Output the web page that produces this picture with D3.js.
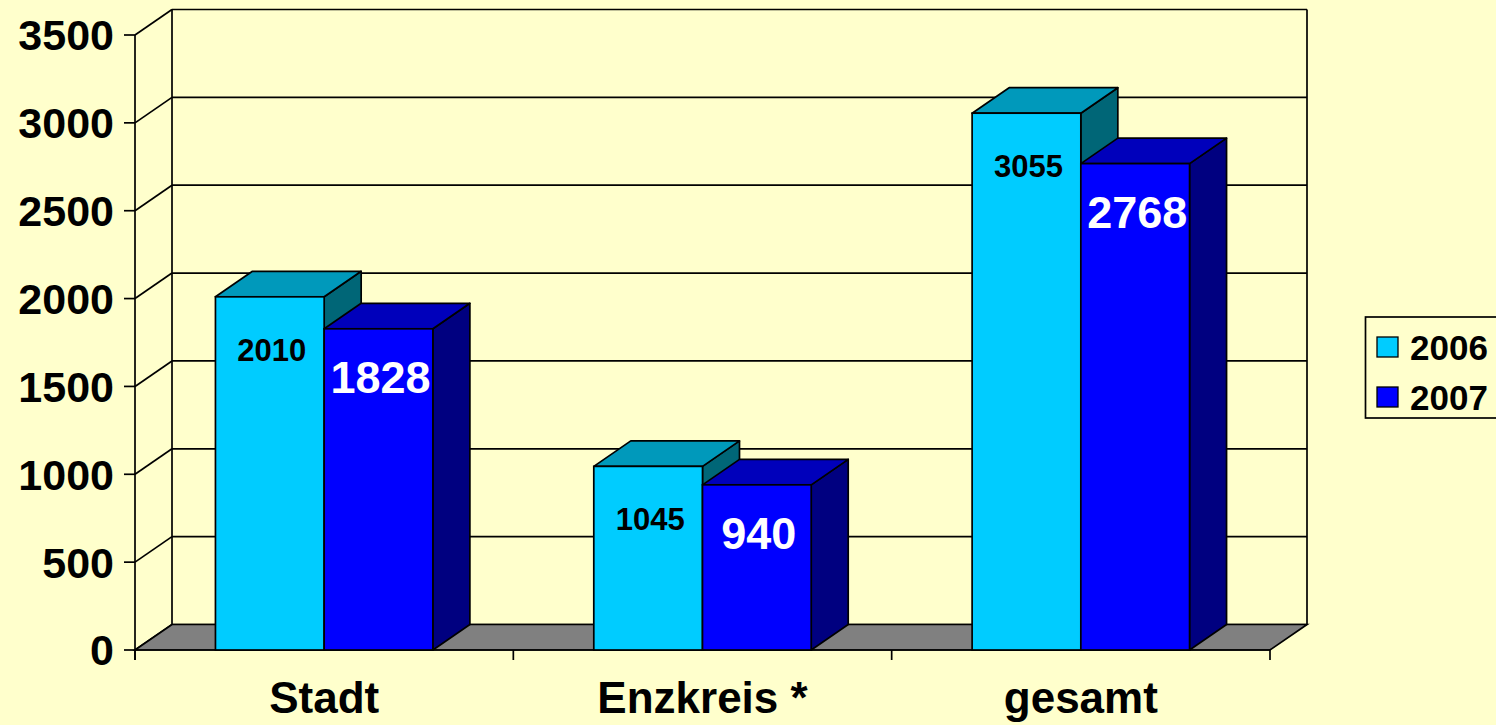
<!DOCTYPE html>
<html>
<head>
<meta charset="utf-8">
<script src="https://cdn.jsdelivr.net/npm/d3@7"></script>
<style>
  html, body { margin: 0; padding: 0; background: #FFFFCC; overflow: hidden; }
  svg { display: block; }
  text { font-family: "Liberation Sans", Arial, sans-serif; font-weight: bold; }
</style>
</head>
<body>
<svg id="chart" width="1496" height="725"></svg>
<script>
const categories = ["Stadt", "Enzkreis *", "gesamt"];
const seriesNames = ["2006", "2007"];
const values2006 = [2010, 1045, 3055];
const values2007 = [1828, 940, 2768];
const yTicks = [0, 500, 1000, 1500, 2000, 2500, 3000, 3500];

const seriesValues = [values2006, values2007];
const W = 1496, H = 725;
const svg = d3.select("#chart");
svg.append("rect").attr("width", W).attr("height", H).attr("fill", "#FFFFCC");

// layout
const x0 = 135, x1 = 1270, yBottom = 650, yTop = 35;
const DX = 37, DY = -25.5;

const x = d3.scaleBand().domain(categories).range([x0, x1]).paddingInner(0).paddingOuter(0);
const xs = d3.scaleBand().domain(seriesNames).range([0, x.bandwidth()]).paddingInner(0).paddingOuter(0.74);
const y = d3.scaleLinear().domain([0, 3500]).range([yBottom, yTop]);

const styles = {
  "2006": { front: "#00CCFF", top: "#0099BB", side: "#006677", label: "#000000", size: 31 },
  "2007": { front: "#0000FF", top: "#0000BB", side: "#000080", label: "#FFFFFF", size: 45 }
};

const lineW = 1.7;
const g = svg.append("g");

// back wall & left wall gridlines
yTicks.forEach(t => {
  const yy = y(t);
  g.append("line").attr("x1", x0 + DX).attr("x2", x1 + DX).attr("y1", yy + DY).attr("y2", yy + DY)
    .attr("stroke", "#000").attr("stroke-width", lineW);
  g.append("line").attr("x1", x0).attr("x2", x0 + DX).attr("y1", yy).attr("y2", yy + DY)
    .attr("stroke", "#000").attr("stroke-width", lineW);
});
// back wall verticals
g.append("line").attr("x1", x0 + DX).attr("x2", x0 + DX).attr("y1", y(3500) + DY).attr("y2", y(0) + DY)
  .attr("stroke", "#000").attr("stroke-width", lineW);
g.append("line").attr("x1", x1 + DX).attr("x2", x1 + DX).attr("y1", y(3500) + DY).attr("y2", y(0) + DY)
  .attr("stroke", "#000").attr("stroke-width", lineW);

// floor
g.append("polygon")
  .attr("points", [[x0, y(0)], [x0 + DX, y(0) + DY], [x1 + DX, y(0) + DY], [x1, y(0)]].map(p => p.join(",")).join(" "))
  .attr("fill", "#808080").attr("stroke", "#000").attr("stroke-width", lineW);

// y axis
g.append("line").attr("x1", x0).attr("x2", x0).attr("y1", y(3500)).attr("y2", y(0) + 10)
  .attr("stroke", "#000").attr("stroke-width", lineW);
yTicks.forEach(t => {
  g.append("line").attr("x1", x0 - 11).attr("x2", x0).attr("y1", y(t)).attr("y2", y(t))
    .attr("stroke", "#000").attr("stroke-width", lineW);
  g.append("text").attr("x", 114).attr("y", y(t)).attr("dy", "0.36em")
    .attr("text-anchor", "end").attr("font-size", 43).attr("fill", "#000").text(t);
});

// x axis
g.append("line").attr("x1", x0).attr("x2", x1).attr("y1", y(0)).attr("y2", y(0))
  .attr("stroke", "#000").attr("stroke-width", lineW);
const boundaries = categories.map(c => x(c)).concat([x(categories[categories.length - 1]) + x.bandwidth()]);
boundaries.forEach(bx => {
  g.append("line").attr("x1", bx).attr("x2", bx).attr("y1", y(0)).attr("y2", y(0) + 10)
    .attr("stroke", "#000").attr("stroke-width", lineW);
});
categories.forEach(c => {
  g.append("text").attr("x", x(c) + x.bandwidth() / 2).attr("y", 713)
    .attr("text-anchor", "middle").attr("font-size", 44).attr("fill", "#000").text(c);
});

// bars
categories.forEach((c, ci) => {
  seriesNames.forEach((s, si) => {
    const v = seriesValues[si][ci];
    const st = styles[s];
    const bx = x(c) + xs(s), bw = xs.bandwidth();
    const top = y(v), bot = y(0);
    const bg = g.append("g");
    bg.append("polygon")
      .attr("points", [[bx + bw, bot], [bx + bw, top], [bx + bw + DX, top + DY], [bx + bw + DX, bot + DY]].map(p => p.join(",")).join(" "))
      .attr("fill", st.side).attr("stroke", "#000").attr("stroke-width", lineW).attr("stroke-linejoin", "round");
    bg.append("polygon")
      .attr("points", [[bx, top], [bx + DX, top + DY], [bx + bw + DX, top + DY], [bx + bw, top]].map(p => p.join(",")).join(" "))
      .attr("fill", st.top).attr("stroke", "#000").attr("stroke-width", lineW).attr("stroke-linejoin", "round");
    bg.append("rect").attr("x", bx).attr("y", top).attr("width", bw).attr("height", bot - top)
      .attr("fill", st.front).attr("stroke", "#000").attr("stroke-width", lineW);
  });
});

// data labels
categories.forEach((c, ci) => {
  seriesNames.forEach((s, si) => {
    const v = seriesValues[si][ci];
    const st = styles[s];
    const bx = x(c) + xs(s), bw = xs.bandwidth();
    g.append("text").attr("x", bx + bw / 2 + 2).attr("y", y(v) + 64)
      .attr("text-anchor", "middle").attr("font-size", st.size).attr("fill", st.label).text(v);
  });
});

// legend
const lg = svg.append("g");
lg.append("rect").attr("x", 1365.5).attr("y", 317).attr("width", 160).attr("height", 101)
  .attr("fill", "#FFFFCC").attr("stroke", "#000").attr("stroke-width", lineW);
seriesNames.forEach((s, i) => {
  const cy = 347 + i * 50;
  lg.append("rect").attr("x", 1377).attr("y", cy - 10).attr("width", 21).attr("height", 20)
    .attr("fill", styles[s].front).attr("stroke", "#000").attr("stroke-width", 1.3);
  lg.append("text").attr("x", 1410).attr("y", cy).attr("dy", "0.36em")
    .attr("font-size", 35).attr("fill", "#000").text(s);
});
</script>
</body>
</html>
